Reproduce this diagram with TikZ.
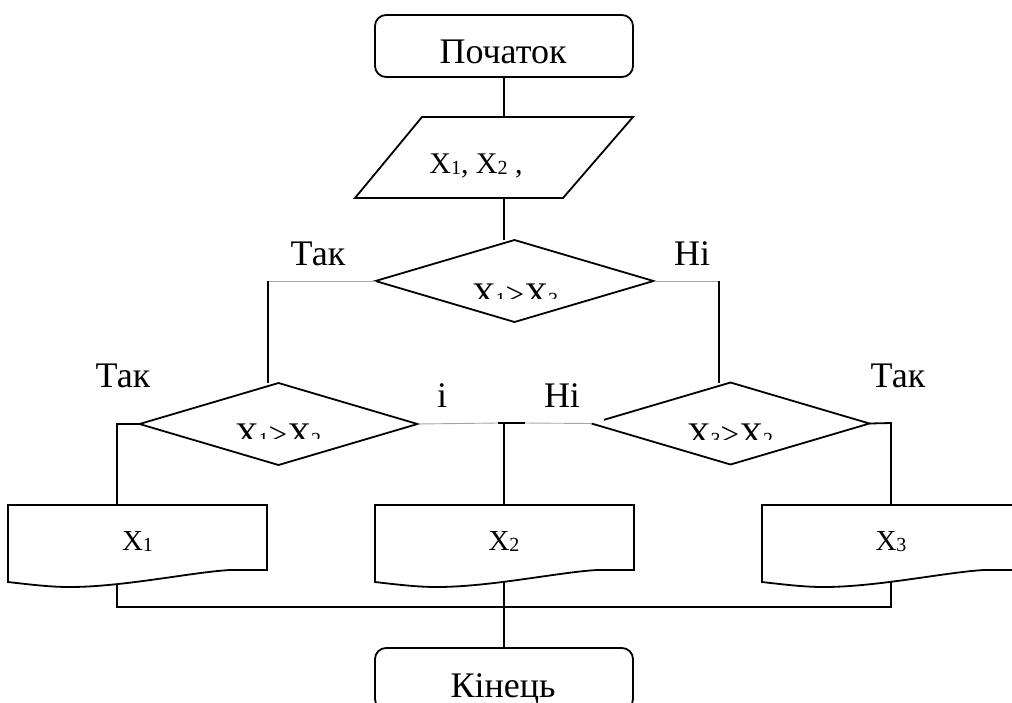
\documentclass[tikz,border=0pt]{standalone}
\usepackage{fontspec}
\setmainfont{Liberation Serif}
\newfontfamily\flowfont{Liberation Serif}
\usetikzlibrary{shapes.geometric,calc}

% small lowered index used in the variable names
\newcommand{\lowidx}[1]{\raisebox{-1.5pt}{\fontsize{20}{20}\selectfont #1}}

% output block: rectangle with a wavy bottom edge, filled white
\newcommand{\docoutline}[1]{%
  \draw[flow, fill=white]
    (#1.south east) -- (#1.north east) -- (#1.north west)
    -- ($(#1.south west)+(0,12)$)
    .. controls ($(#1.south west)+(30,15.5)$) and ($(#1.south west)+(45,17)$) .. ($(#1.south west)+(62,17)$)
    .. controls ($(#1.south west)+(115,17)$) and ($(#1.south west)+(185,2)$) .. ($(#1.south west)+(222,0)$)
    -- cycle;}

\tikzset{
  flow/.style={line width=1.8pt, draw=black},
  faint/.style={line width=0.9pt, draw=black!35},
  terminal/.style={draw, line width=1.8pt, rectangle, rounded corners=11pt,
    minimum width=258pt, minimum height=62pt, inner sep=0pt, outer sep=0pt},
  inputbox/.style={rectangle, minimum width=278pt, minimum height=81pt,
    inner sep=0pt, outer sep=0pt},
  decision/.style={diamond, line width=1.8pt, minimum width=278pt,
    minimum height=82pt, inner sep=0pt, outer sep=0pt},
  docbox/.style={rectangle, minimum width=259pt, minimum height=65pt,
    inner sep=0pt, outer sep=0pt},
  word/.style={anchor=base, inner sep=0pt, font=\flowfont\fontsize{36}{40}\selectfont},
  formula/.style={anchor=base, inner sep=0pt, font=\flowfont\fontsize{30}{34}\selectfont},
  cond/.style={anchor=base, inner sep=0pt, font=\flowfont\fontsize{33}{36}\selectfont},
  item/.style={anchor=base, inner sep=0pt, font=\flowfont\fontsize{29}{32}\selectfont},
}

\begin{document}
\begin{tikzpicture}[x=1pt, y=-1pt]
\path[use as bounding box] (0,0) rectangle (1012,702);
\clip (0,0) rectangle (1012,702);

% blocks
\node[terminal] (start) at (504,46) {};
\node[inputbox] (input) at (494,157.5) {};
\node[decision, draw] (c1) at (514.5,281) {};
\node[decision, draw] (c2) at (278.5,424) {};
\node[decision] (c3) at (730.5,423.5) {};
\node[docbox] (o1) at (137.5,537.5) {};
\node[docbox] (o2) at (504.5,537.5) {};
\node[docbox] (o3) at (891.5,537.5) {};
\node[terminal] (end) at (504,679) {};

% input block: parallelogram leaning right
\draw[flow] ($(input.north west)+(67,0)$) -- (input.north east)
  -- ($(input.south east)+(-70,0)$) -- (input.south west) -- cycle;

% third condition: upper-left edge stops short of the vertex
\draw[flow] ($(c3.west)!0.09!(c3.north)$) -- (c3.north) -- (c3.east) -- (c3.south) -- (c3.west);

% junction points
\coordinate (jl) at (268,281);
\coordinate (jr) at (719,281);
\coordinate (kl) at (117,424);
\coordinate (kr) at (891,423);
\coordinate (tee) at (504,423);
\coordinate (bus) at (504,607);

% connectors
\draw[flow] (start.south) -- (start.south |- input.north);
\draw[flow] (start.south |- input.south) -- (start.south |- c1.north);
\draw[faint] (c1.west) -- (jl);
\draw[flow] (jl) -- (jl |- c2.north);
\draw[faint] (c1.east) -- (jr);
\draw[flow] (jr) -- (jr |- c3.north);
\draw[flow] (c2.west) -- (kl) -- (kl |- o1.north);
\draw[faint] (c2.east) -- ($(tee)+(-6,0)$);
\draw[flow] ($(tee)+(-6,0)$) -- ($(tee)+(21,0)$);
\draw[flow] (tee) -- (tee |- o2.north);
\draw[faint] ($(tee)+(21,0)$) -- (c3.west);
\draw[flow] (c3.east) -- (kr) -- (kr |- o3.north);
\draw[flow] (kl |- o1.south) -- (kl |- bus) -- (kr |- bus) -- (kr |- o3.south);
\draw[flow] (tee |- o2.south) -- (end.north);

% output blocks drawn over the connector ends
\docoutline{o1}
\docoutline{o2}
\docoutline{o3}

% texts
\node[word] (tstart) at (503,63) {Початок};
\node[formula] (tin) at (476,173) {X\lowidx{1}, X\lowidx{2} ,};
\begin{scope}
  \clip (440,270) rectangle (600,298);
  \node[cond] (tc1) at (515,305) {X\lowidx{1}>X\lowidx{3}};
\end{scope}
\begin{scope}
  \clip (200,410) rectangle (360,438);
  \node[cond] (tc2) at (278,445) {X\lowidx{1}>X\lowidx{2}};
\end{scope}
\begin{scope}
  \clip (650,410) rectangle (810,439);
  \node[cond] (tc3) at (730,445) {X\lowidx{3}>X\lowidx{2}};
\end{scope}
\node[item] (to1) at (137.5,550) {X\lowidx{1}};
\node[item] (to2) at (504,550) {X\lowidx{2}};
\node[item] (to3) at (891,550) {X\lowidx{3}};
\node[word] (tend) at (503,697) {Кінець};

% branch labels
\node[word] (yes1) at (318,265) {Так};
\node[word] (no1) at (692,265) {Ні};
\node[word] (yes2) at (123,387) {Так};
\node[word] (no2a) at (442,407) {і};
\node[word] (no2b) at (562,407) {Ні};
\node[word] (yes3) at (898,387) {Так};
\end{tikzpicture}
\end{document}
